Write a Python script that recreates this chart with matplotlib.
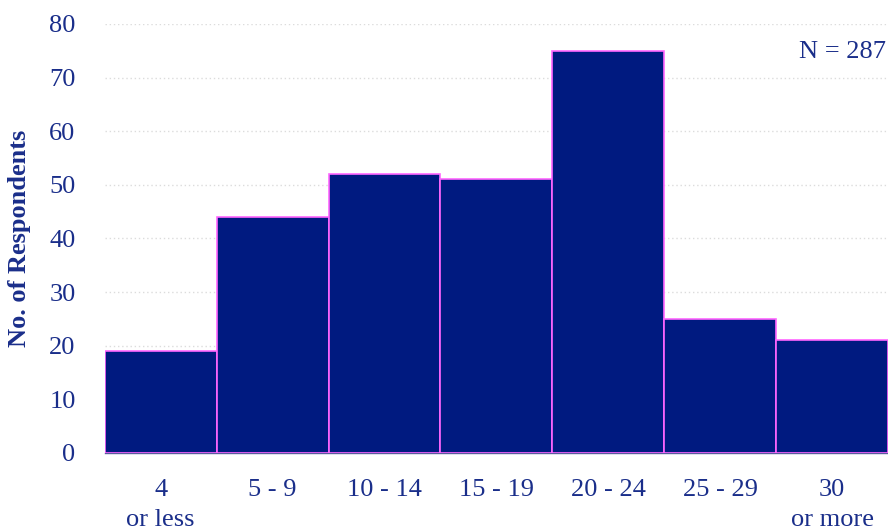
import matplotlib.pyplot as plt
import numpy as np

# Daten
categories = ["4\nor less", "5 - 9", "10 - 14", "15 - 19", "20 - 24", "25 - 29", "30\nor more"]
respondents = [19, 44, 52, 51, 75, 25, 21]
y_ticks = [0, 10, 20, 30, 40, 50, 60, 70, 80]

navy = "#001a80"
text_col = "#1a2e8a"
edge_col = "#ff66ff"

plt.rcParams['font.family'] = ['Liberation Serif', 'DejaVu Serif']

fig = plt.figure(figsize=(8.88, 5.32), dpi=100)
ax = fig.add_axes([0.118, 0.1485, 0.882, 0.8065])

x = np.arange(len(categories))
ax.bar(x, respondents, width=1.0, color=navy, edgecolor=edge_col, linewidth=1.2, zorder=3)

ax.set_xlim(-0.5, len(categories) - 0.5)
ax.set_ylim(0, 80)
ax.set_yticks(y_ticks)
ax.set_xticks(x)
ax.set_xticklabels(categories, fontsize=19, color=text_col, linespacing=1.45)
ax.tick_params(axis='x', length=0, pad=19)
ax.tick_params(axis='y', length=0, pad=21, labelsize=19, labelcolor=text_col)

ax.grid(axis='y', linestyle=(0, (1, 2)), color='#dcdcdc', linewidth=1, zorder=0)
for s in ['top', 'right', 'left']:
    ax.spines[s].set_visible(False)
ax.spines['bottom'].set_color('#5a5aa0')
ax.spines['bottom'].set_linewidth(1)

ax.set_ylabel("No. of Respondents", fontsize=19, fontweight='bold', color=text_col, labelpad=13)

ax.text(0.998, 0.935, "N = 287", transform=ax.transAxes, ha='right', va='center',
        fontsize=19, color=text_col)

plt.savefig("out.png", dpi=100)
